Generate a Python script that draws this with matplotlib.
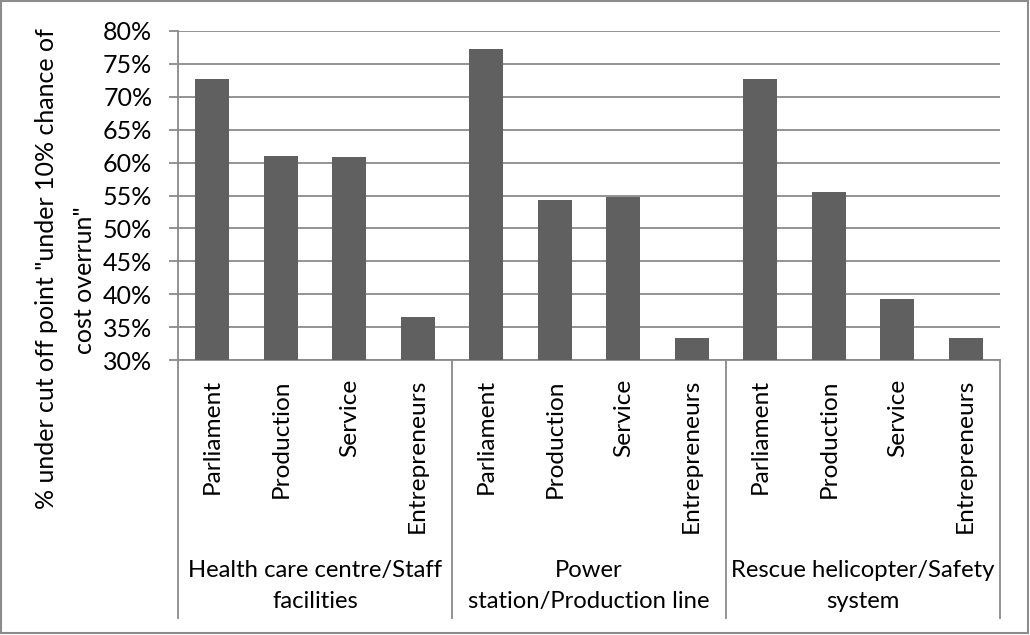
import matplotlib
matplotlib.use("Agg")
import matplotlib.pyplot as plt
from matplotlib.patches import Rectangle
from matplotlib.ticker import FuncFormatter

# Category structure
groups = [
    "Health care centre/Staff\nfacilities",
    "Power\nstation/Production line",
    "Rescue helicopter/Safety\nsystem",
]
respondents = ["Parliament", "Production", "Service", "Entrepreneurs"]

# Share (%) under the cut-off point, one list per project type
health_care = [72.7, 61.0, 60.8, 36.6]
power_station = [77.3, 54.3, 54.8, 33.3]
rescue_helicopter = [72.7, 55.6, 39.2, 33.3]

y_ticks = [30, 35, 40, 45, 50, 55, 60, 65, 70, 75, 80]

values = health_care + power_station + rescue_helicopter
n_sub = len(respondents)
positions = list(range(len(values)))

W, H = 1030, 635
plt.rcParams["font.family"] = ["Lato", "DejaVu Sans"]
fs = 18

fig = plt.figure(figsize=(W / 100, H / 100), dpi=100)
fig.patch.set_facecolor("white")

left, right, top, bottom = 178, 1000, 31, 360
ax = fig.add_axes([left / W, 1 - bottom / H, (right - left) / W, (bottom - top) / H])

grid_col = "#8a8a8a"
ax.bar(positions, values, width=0.5, color="#606060", zorder=3)

ax.set_xlim(-0.5, len(values) - 0.5)
ax.set_ylim(y_ticks[0], y_ticks[-1])
ax.set_yticks(y_ticks)
ax.yaxis.set_major_formatter(FuncFormatter(lambda v, p: f"{v:.0f}%"))
ax.grid(axis="y", color=grid_col, linewidth=1.3, zorder=0)
ax.set_axisbelow(True)

for s in ["top", "right"]:
    ax.spines[s].set_visible(False)
for s in ["left", "bottom"]:
    ax.spines[s].set_color(grid_col)
    ax.spines[s].set_linewidth(1.3)

ax.tick_params(axis="y", direction="out", length=6.5, width=1.3, color=grid_col,
               labelsize=fs, pad=12, labelcolor="black")
ax.set_xticks([])

# Multi-level category axis
xt = ax.get_xaxis_transform()
ph = bottom - top
sub_top = -(379 - bottom) / ph
for x, lab in zip(positions, respondents * len(groups)):
    ax.text(x, sub_top, lab, transform=xt, rotation=90, ha="center", va="top",
            fontsize=17.6, color="black")

div_bottom = -(618 - bottom) / ph
for g in range(len(groups) + 1):
    xb = g * n_sub - 0.5
    ax.plot([xb, xb], [0, div_bottom], transform=xt, color=grid_col,
            linewidth=1.3, clip_on=False, zorder=4)

grp_y = -(586 - bottom) / ph
for g, name in enumerate(groups):
    xc = g * n_sub + (n_sub - 1) / 2
    ax.text(xc, grp_y, name, transform=xt, ha="center", va="center",
            fontsize=17.2, color="black", linespacing=1.55, multialignment="center")

# Axis title on two rotated lines
fig.text(47 / W, 1 - 269 / H, '% under cut off point "under 10% chance of',
         rotation=90, ha="center", va="center", fontsize=fs)
fig.text(84 / W, 1 - 280 / H, 'cost overrun"',
         rotation=90, ha="center", va="center", fontsize=fs)

# Chart border
fig.patches.append(Rectangle((1 / W, 1 - 633 / H), 1027 / W, 632 / H,
                             transform=fig.transFigure, fill=False,
                             edgecolor="#8c8c8c", linewidth=1.5))

fig.savefig("out.png", dpi=100, facecolor="white")
